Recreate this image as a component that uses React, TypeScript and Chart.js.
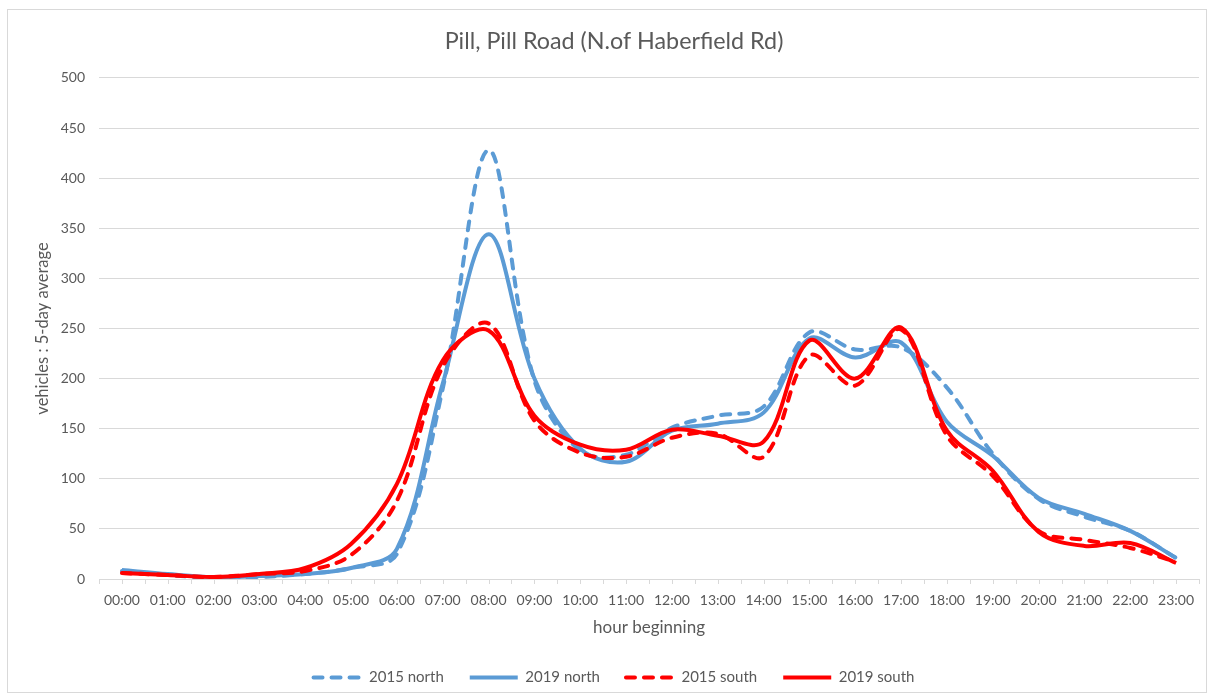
import React, { useEffect, useRef } from "react";
import { Chart, registerables } from "chart.js";

Chart.register(...registerables);

const hours = [
  "00:00", "01:00", "02:00", "03:00", "04:00", "05:00", "06:00", "07:00",
  "08:00", "09:00", "10:00", "11:00", "12:00", "13:00", "14:00", "15:00",
  "16:00", "17:00", "18:00", "19:00", "20:00", "21:00", "22:00", "23:00",
];

const north2015 = [8, 4, 1, 2, 5, 11, 25, 190, 428, 198, 128, 124, 151, 163, 172, 246, 229, 231, 191, 125, 80, 62, 48, 21];
const north2019 = [9, 5, 2, 3, 5, 11, 30, 195, 344, 200, 130, 117, 148, 155, 166, 240, 221, 236, 157, 123, 81, 65, 48, 21];
const south2015 = [6, 4, 2, 5, 8, 24, 78, 212, 255, 158, 126, 122, 141, 145, 122, 223, 193, 249, 143, 103, 48, 39, 31, 17];
const south2019 = [6, 4, 2, 5, 11, 35, 95, 218, 248, 163, 134, 129, 149, 143, 137, 238, 200, 251, 148, 108, 47, 33, 36, 16];

const seriesLabels = ["2015 north", "2019 north", "2015 south", "2019 south"];
const chartTitle = "Pill, Pill Road (N.of Haberfield Rd)";
const xTitle = "hour beginning";
const yTitle = "vehicles : 5-day average";
const yMin = 0;
const yMax = 500;
const yStep = 50;

const BLUE = "#5B9BD5";
const RED = "#FF0000";
const TEXT = "#595959";
const GRID = "#D9D9D9";
const FONT = "Lato, 'Open Sans', sans-serif";
const DASH = [9, 9];

const tickMarks = {
  id: "tickMarks",
  beforeDatasetsDraw(chart: any) {
    const xs = chart.scales.x;
    const ctx = chart.ctx;
    const y0 = chart.chartArea.bottom;
    const n = hours.length;
    const half = (xs.getPixelForValue(1) - xs.getPixelForValue(0)) / 2;
    ctx.save();
    ctx.strokeStyle = GRID;
    ctx.lineWidth = 1;
    ctx.beginPath();
    for (let i = 0; i < n; i++) {
      const c = xs.getPixelForValue(i);
      for (const px of [c - half, c]) {
        const xx = Math.round(px) + 0.5;
        ctx.moveTo(xx, y0);
        ctx.lineTo(xx, y0 + 5);
      }
    }
    const lastX = Math.round(xs.getPixelForValue(n - 1) + half) + 0.5;
    ctx.moveTo(lastX, y0);
    ctx.lineTo(lastX, y0 + 5);
    ctx.stroke();
    ctx.restore();
  },
};

export default function App() {
  const canvasRef = useRef<HTMLCanvasElement | null>(null);

  useEffect(() => {
    if (!canvasRef.current) return;
    const mk = (label: string, data: number[], color: string, dashed: boolean, order: number) => ({
      label,
      data,
      borderColor: color,
      backgroundColor: color,
      borderWidth: 4,
      borderDash: dashed ? DASH : [],
      borderCapStyle: dashed ? "round" : "butt",
      pointRadius: 0,
      pointHoverRadius: 0,
      tension: 0.35,
      fill: false,
      order,
    });
    const chart = new Chart(canvasRef.current, {
      type: "line",
      data: {
        labels: hours,
        datasets: [
          mk(seriesLabels[0], north2015, BLUE, true, 3),
          mk(seriesLabels[1], north2019, BLUE, false, 2),
          mk(seriesLabels[2], south2015, RED, true, 1),
          mk(seriesLabels[3], south2019, RED, false, 0),
        ] as any,
      },
      options: {
        responsive: false,
        animation: false,
        devicePixelRatio: 1,
        layout: { padding: { left: 29, right: 15, top: 0, bottom: 2 } },
        plugins: {
          title: {
            display: true,
            text: chartTitle,
            color: TEXT,
            font: { family: FONT, size: 23.3, weight: "normal" },
            padding: { top: 27, bottom: 23 },
          },
          legend: {
            position: "bottom",
            labels: {
              usePointStyle: true,
              pointStyle: "line",
              pointStyleWidth: 48,
              boxHeight: 15,
              padding: 26,
              color: TEXT,
              font: { family: FONT, size: 15 },
              sort: (a: any, b: any) => a.datasetIndex - b.datasetIndex,
              generateLabels: (c: any) => {
                const base = (Chart as any).defaults.plugins.legend.labels.generateLabels(c);
                return base.map((item: any) => {
                  const ds = c.data.datasets[item.datasetIndex];
                  return {
                    ...item,
                    pointStyle: "line",
                    lineWidth: ds.borderWidth,
                    lineDash: ds.borderDash,
                    lineCap: ds.borderCapStyle,
                    strokeStyle: ds.borderColor,
                    fillStyle: ds.borderColor,
                  };
                });
              },
            },
          },
          tooltip: { enabled: false },
        },
        scales: {
          x: {
            offset: true,
            grid: { display: false, drawTicks: false },
            border: { display: true, color: GRID, width: 1 },
            ticks: {
              autoSkip: false,
              maxRotation: 0,
              minRotation: 0,
              padding: 13,
              color: TEXT,
              font: { family: FONT, size: 14 },
            },
            title: {
              display: true,
              text: xTitle,
              color: TEXT,
              font: { family: FONT, size: 17 },
              padding: { top: 4, bottom: 5.8 },
            },
            afterFit: (scale: any) => {
              scale.height = 65;
            },
          },
          y: {
            min: yMin,
            max: yMax,
            grid: { color: GRID, lineWidth: 1, drawTicks: false },
            border: { display: false },
            ticks: {
              stepSize: yStep,
              padding: 14,
              color: TEXT,
              font: { family: FONT, size: 14 },
            },
            title: {
              display: true,
              text: yTitle,
              color: TEXT,
              font: { family: FONT, size: 16.5 },
              padding: { top: 4, bottom: 4 },
            },
            afterFit: (scale: any) => {
              scale.width = 70;
            },
          },
        },
      },
      plugins: [tickMarks],
    } as any);
    return () => chart.destroy();
  }, []);

  return (
    <div style={{ position: "absolute", left: 0, top: 0, width: 1214, height: 697, background: "#fff", overflow: "hidden" }}>
      <div
        style={{
          position: "absolute",
          left: 7,
          top: 9,
          width: 1200,
          height: 684,
          border: "1px solid #D9D9D9",
          boxSizing: "border-box",
        }}
      />
      <canvas
        ref={canvasRef}
        width={1214}
        height={697}
        style={{ position: "absolute", left: 0, top: 0, width: 1214, height: 697 }}
      />
    </div>
  );
}
